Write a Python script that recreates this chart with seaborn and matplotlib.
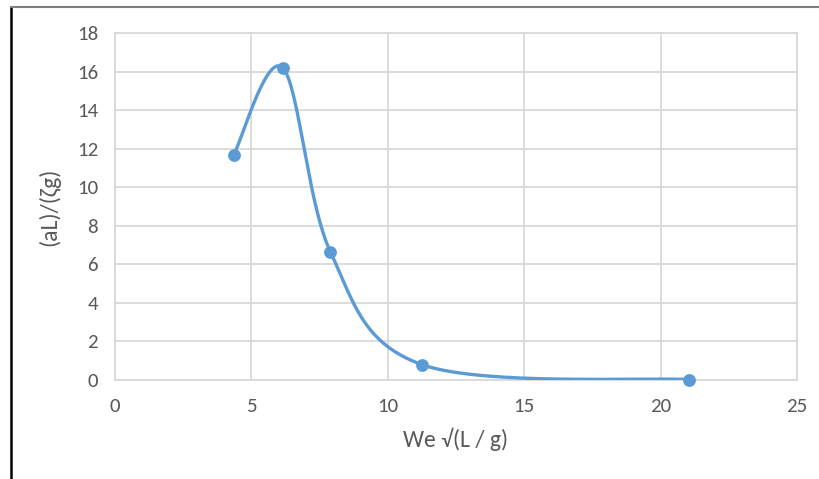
import numpy as np
import pandas as pd
import matplotlib
matplotlib.use("Agg")
import matplotlib.pyplot as plt
from matplotlib.lines import Line2D
import seaborn as sns

# data
we_sqrt = [4.35, 6.15, 7.9, 11.25, 21.05]
ratio = [11.65, 16.2, 6.65, 0.8, 0.02]
x_ticks = [0, 5, 10, 15, 20, 25]
y_ticks = [0, 2, 4, 6, 8, 10, 12, 14, 16, 18]

blue = "#5B9BD5"
grid = "#D9D9D9"
txt = "#595959"


def smooth(xs, ys, n=60):
    # Excel-style smoothed line: Bezier segments with Catmull-Rom control points
    p = np.column_stack([xs, ys]).astype(float)
    p_ext = np.vstack([p[0], p, p[-1]])
    out = []
    for i in range(len(p) - 1):
        p0, p1, p2, p3 = p_ext[i], p_ext[i + 1], p_ext[i + 2], p_ext[i + 3]
        c1 = p1 + (p2 - p0) / 6
        c2 = p2 - (p3 - p1) / 6
        t = np.linspace(0, 1, n)[:, None]
        seg = ((1 - t) ** 3 * p1 + 3 * (1 - t) ** 2 * t * c1
               + 3 * (1 - t) * t ** 2 * c2 + t ** 3 * p2)
        out.append(seg if i == 0 else seg[1:])
    return np.vstack(out)


df = pd.DataFrame({"x": we_sqrt, "y": ratio})
curve = smooth(we_sqrt, ratio)
curve_df = pd.DataFrame({"x": curve[:, 0], "y": curve[:, 1]})

sns.set_style("white")
plt.rcParams["font.family"] = ["Carlito", "DejaVu Sans"]

fig = plt.figure(figsize=(8.2, 4.79), dpi=100)
ax = fig.add_axes([0.140, 0.2067, 0.832, 0.7244])

sns.lineplot(data=curve_df, x="x", y="y", sort=False, color=blue, linewidth=2.4,
             estimator=None, ax=ax, zorder=3)
sns.scatterplot(data=df, x="x", y="y", color=blue, s=85, edgecolor=blue,
                linewidth=0, ax=ax, zorder=4, clip_on=False)

ax.set_xlim(0, 25)
ax.set_ylim(0, 18)
ax.set_xticks(x_ticks)
ax.set_yticks(y_ticks)
ax.grid(True, color=grid, linewidth=1.3)
ax.set_axisbelow(True)
for s in ax.spines.values():
    s.set_color(grid)
    s.set_linewidth(1.3)
ax.tick_params(length=0, labelsize=15, colors=txt)
ax.tick_params(axis="x", pad=13)
ax.tick_params(axis="y", pad=12)

ax.set_xlabel("We √(L / g)", fontsize=17, color=txt, labelpad=9)
ax.set_ylabel("(aL)/(ζg)", fontsize=17, color=txt, labelpad=12)

# outer chart frame (partly cropped in the reference)
fig.add_artist(Line2D([0.0134, 0.0134], [0.0, 0.985], transform=fig.transFigure,
                      color="black", linewidth=1.8))
fig.add_artist(Line2D([0.0134, 1.0], [0.985, 0.985], transform=fig.transFigure,
                      color="#7F7F7F", linewidth=1.5))

fig.savefig("out.png", dpi=100)
